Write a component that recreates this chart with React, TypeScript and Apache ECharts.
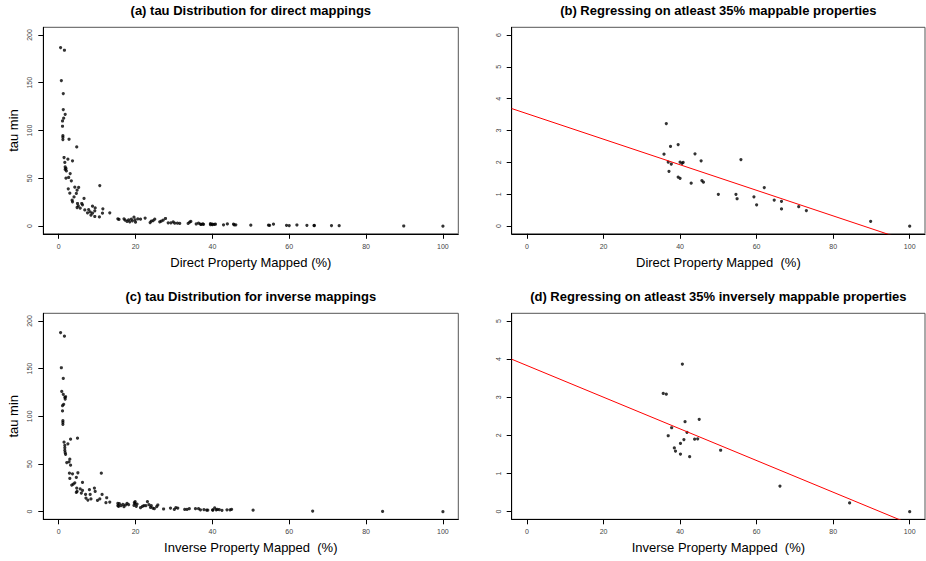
import React, { useEffect, useRef } from "react";
import * as echarts from "echarts";

// ---------- data ----------
const directPct = [
  0.5, 1.5, 0.7, 1.2, 1.2, 1.7, 1.3, 1.0, 1.0, 1.1, 1.1, 1.1, 2.7, 4.7, 1.4, 2.4, 3.6, 1.6, 1.7, 1.9,
  1.7, 2.0, 3.0, 2.6, 3.3, 1.9, 2.5, 4.2, 5.2, 4.8, 4.6, 2.9, 4.0, 6.6, 3.5, 3.6, 4.9, 5.1, 6.0, 6.2,
  4.8, 5.6, 6.8, 7.8, 8.8, 9.5, 9.4, 8.2, 8.8, 9.4, 8.4, 7.5, 11.5, 10.6, 11.4, 10.7, 13.3,
  15.4, 15.7, 17.0, 17.3, 17.8, 18.2, 18.5, 18.9, 19.2, 19.6, 19.9, 20.0, 20.6, 21.3, 22.5, 23.8, 24.1,
  24.6, 25.0, 26.3, 26.7, 27.2, 27.8, 28.5, 29.2, 29.8, 30.2, 30.9, 31.5, 33.7, 34.1, 34.4,
  35.8, 36.4, 36.9, 37.1, 37.5, 37.7, 39.5, 39.5, 40.0, 40.0, 40.5, 40.8, 42.9, 43.9, 45.5, 45.7, 46.1,
  50.0, 54.6, 54.9, 55.9, 59.3, 60.0, 62.0, 64.6, 66.5, 66.5, 71.0, 73.0, 89.8, 100,
];
const directTau = [
  186.8, 184, 152.3, 138.7, 122, 117, 112.9, 110, 104.5, 94.8, 93, 90.6, 90.9, 82.9, 71.8, 70, 68.3, 66.6, 62, 60.3,
  59.3, 57.8, 55, 50.9, 47.4, 50.2, 39, 40.8, 40.5, 37.6, 34.2, 34.5, 30.6, 29, 27.2, 25.4, 23.7, 21.2, 23.7, 22.3,
  19.5, 18.8, 17, 17.4, 20.9, 19.1, 16, 14.9, 13.6, 10.1, 11.5, 13.9, 18.1, 9.7, 13.6, 42.5, 13.9,
  7.7, 7.0, 7.7, 6.3, 4.9, 6.6, 4.5, 7.3, 5.6, 9.4, 6.6, 4.2, 7.7, 7.3, 8.4, 3.8, 5.2,
  5.9, 7.3, 4.5, 5.2, 6.3, 8.0, 3.5, 3.5, 4.5, 3.1, 3.1, 2.8, 2.8, 4.2, 4.9,
  2.26, 3.22, 2.01, 1.72, 2.5, 1.95, 2.56, 1.54, 2.01, 1.5, 1.97, 2.0, 1.35, 2.27, 2.05, 1.43, 1.38,
  1.0, 1.0, 0.86, 2.09, 0.92, 0.67, 1.21, 0.82, 0.78, 0.54, 0.61, 0.49, 0.15, 0,
];
const inversePct = [
  0.5, 1.5, 0.7, 1.2, 0.8, 1.2, 1.6, 1.8, 1.7, 1.3, 1.0, 1.0, 1.1, 1.1, 1.1, 1.4, 3.1, 4.9, 2.4, 1.6,
  1.6, 1.6, 1.7, 1.8, 2.1, 2.9, 2.7, 3.1, 2.8, 3.6, 2.9, 4.6, 5.0, 4.2, 3.8, 3.4, 6.2, 4.7, 4.8, 5.6,
  6.2, 4.6, 5.9, 7.1, 7.0, 8.0, 9.3, 8.2, 8.4, 7.6, 9.5, 10.1, 10.7, 11.3, 11.1, 12.5, 12.3, 13.3,
  15.4, 15.4, 15.8, 15.6, 16.2, 16.7, 17.0, 17.4, 17.8, 18.2, 19.7, 19.9, 19.9, 19.6, 20.2, 20.4, 21.3,
  21.8, 22.2, 22.7, 23.1, 23.5, 23.9, 24.1, 24.5, 24.9, 25.5, 25.8, 27.3, 29.1, 30.1, 30.5, 31.0, 32.8,
  33.4, 34.0,
  35.6, 36.4, 36.9, 37.8, 38.5, 38.8, 40.1, 40.1, 40.6, 41.0, 41.3, 41.8, 42.5, 43.8, 44.6, 45.0,
  50.6, 66.1, 84.3, 100,
];
const inverseTau = [
  187.8, 184, 150.9, 139.7, 126.1, 123, 119.9, 120.5, 118.1, 112.6, 111.1, 105.6, 95.4, 93.7, 91.6, 72.9, 76, 77, 71.1, 69.4,
  67, 64.2, 61.8, 60.1, 51.5, 55, 52.3, 48.8, 40.4, 39.7, 34.8, 35.9, 40.8, 30.3, 28.9, 27.9, 30.7, 24.7, 21.2, 24,
  22.3, 20.2, 19.5, 14.3, 18.1, 23, 24.7, 18.1, 13.3, 12.2, 21.2, 11.8, 13.3, 18.1, 40.4, 14.6, 9.4, 10.1,
  8.7, 6.3, 8.4, 5.6, 6.3, 7.7, 5.2, 7.0, 8.7, 7.3, 9.4, 10.5, 8.4, 6.6, 5.6, 8.0, 4.2,
  5.6, 6.3, 6.3, 10.5, 7.3, 4.5, 6.3, 3.8, 3.1, 5.2, 7.0, 2.8, 3.8, 2.4, 4.2, 3.8, 2.4,
  2.4, 3.1,
  3.1, 3.08, 1.99, 2.2, 1.67, 1.59, 1.79, 1.51, 3.87, 1.89, 2.36, 2.08, 1.44, 1.9, 1.91, 2.42,
  1.61, 0.67, 0.23, 0,
];

const pctTicks = [0, 20, 40, 60, 80, 100];
const tauTicks = [0, 50, 100, 150, 200];
const regDirectTicks = [0, 1, 2, 3, 4, 5, 6];
const regInverseTicks = [0, 1, 2, 3, 4, 5];

const threshold = 35;
const directFit = { intercept: 3.53, slope: -0.0401 };
const inverseFit = { intercept: 3.83, slope: -0.0415 };

const titles = [
  "(a) tau Distribution for direct mappings",
  "(b) Regressing on atleast 35% mappable properties",
  "(c) tau Distribution for inverse mappings",
  "(d) Regressing on atleast 35% inversely mappable properties",
];
const xNames = [
  "Direct Property Mapped (%)",
  "Direct Property Mapped  (%)",
  "Inverse Property Mapped  (%)",
  "Inverse Property Mapped  (%)",
];

// ---------- helpers ----------
const FONT = '"Liberation Sans", Arial, Helvetica, sans-serif';

function pairs(xs: number[], ys: number[], minX = -Infinity) {
  const out: number[][] = [];
  xs.forEach((x, i) => {
    if (x >= minX) out.push([x, ys[i]]);
  });
  return out;
}

function padRange(lo: number, hi: number) {
  const p = (hi - lo) * 0.04;
  return [lo - p, hi + p];
}

export default function App() {
  const ref = useRef<HTMLDivElement>(null);

  useEffect(() => {
    if (!ref.current) return;
    const chart = echarts.init(ref.current, undefined, { renderer: "svg" });

    const grids = [
      { left: 43.3, top: 27.3, width: 415, height: 206.5 },
      { left: 511.7, top: 27.3, width: 413.3, height: 206.5 },
      { left: 43.3, top: 313.3, width: 415, height: 206 },
      { left: 511.7, top: 313.3, width: 413.3, height: 206 },
    ];

    const xRange = padRange(0, 100);
    const yRanges = [padRange(0, 200), padRange(0, 6), padRange(0, 200), padRange(0, 5)];
    const yTicks = [tauTicks, regDirectTicks, tauTicks, regInverseTicks];

    const xAxis = grids.map((_, i) => ({
      type: "value",
      gridIndex: i,
      position: "bottom",
      min: xRange[0],
      max: xRange[1],
      splitLine: { show: false },
      axisLine: { show: true, onZero: false, lineStyle: { color: "#000", width: 1 } },
      axisTick: { show: true, length: 5, customValues: pctTicks, lineStyle: { color: "#000" } },
      axisLabel: { customValues: pctTicks, fontSize: 7, color: "#444", margin: 9, fontFamily: FONT },
      name: xNames[i],
      nameLocation: "middle",
      nameGap: 22,
      nameTextStyle: { fontSize: 13, color: "#000", fontFamily: FONT },
    }));

    const yAxis = grids.map((_, i) => ({
      type: "value",
      gridIndex: i,
      position: "left",
      min: yRanges[i][0],
      max: yRanges[i][1],
      splitLine: { show: false },
      axisLine: { show: true, onZero: false, lineStyle: { color: "#000", width: 1 } },
      axisTick: { show: true, length: 5, customValues: yTicks[i], lineStyle: { color: "#000" } },
      axisLabel: { customValues: yTicks[i], fontSize: 7, color: "#444", margin: 10, rotate: 90, fontFamily: FONT },
      name: i % 2 === 0 ? "tau min" : "",
      nameLocation: "middle",
      nameGap: 23,
      nameTextStyle: { fontSize: 13, color: "#000", fontFamily: FONT },
    }));

    const fitLine = (fit: { intercept: number; slope: number }) =>
      [xRange[0], xRange[1]].map((x) => [x, fit.intercept + fit.slope * x]);

    const scatter = (data: number[][], idx: number) => ({
      type: "scatter",
      xAxisIndex: idx,
      yAxisIndex: idx,
      data,
      symbol: "circle",
      symbolSize: 3.2,
      itemStyle: { color: "#000" },
      silent: true,
    });

    const line = (data: number[][], idx: number) => ({
      type: "line",
      xAxisIndex: idx,
      yAxisIndex: idx,
      data,
      showSymbol: false,
      symbol: "none",
      clip: true,
      lineStyle: { color: "#ff0000", width: 1 },
      silent: true,
    });

    const graphic = grids.map((g, i) => ({
      type: "text",
      x: g.left + g.width / 2,
      y: g.top - 17,
      style: {
        text: titles[i],
        textAlign: "center",
        textVerticalAlign: "middle",
        fontSize: 13,
        fontWeight: "bold",
        fontFamily: FONT,
        fill: "#000",
      },
    }));

    chart.setOption({
      animation: false,
      backgroundColor: "#fff",
      grid: grids.map((g) => ({ ...g, show: true, borderColor: "#555", borderWidth: 1, backgroundColor: "transparent" })),
      xAxis,
      yAxis,
      graphic,
      series: [
        scatter(pairs(directPct, directTau), 0),
        scatter(pairs(directPct, directTau, threshold), 1),
        line(fitLine(directFit), 1),
        scatter(pairs(inversePct, inverseTau), 2),
        scatter(pairs(inversePct, inverseTau, threshold), 3),
        line(fitLine(inverseFit), 3),
      ],
    });

    return () => chart.dispose();
  }, []);

  return <div ref={ref} style={{ position: "absolute", left: 0, top: 0, width: 926, height: 561 }} />;
}
